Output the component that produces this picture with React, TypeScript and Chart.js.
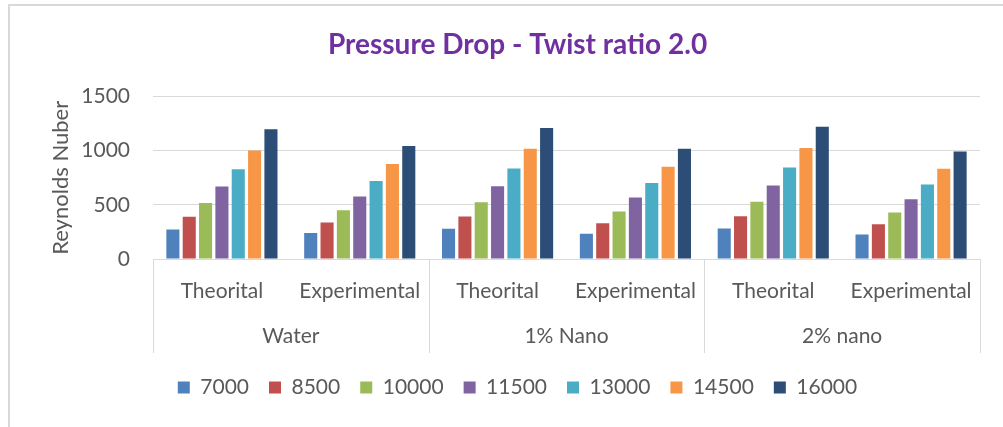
import React, { useEffect, useRef } from "react";
import { Chart, registerables } from "chart.js";

Chart.register(...registerables);

const groups = ["Water", "1% Nano", "2% nano"];
const subCategories = ["Theorital", "Experimental"];
const seriesNames = ["7000", "8500", "10000", "11500", "13000", "14500", "16000"];
const s7000 = [273, 239, 279, 233, 282, 227];
const s8500 = [390, 337, 393, 331, 396, 322];
const s10000 = [518, 451, 525, 439, 528, 429];
const s11500 = [669, 577, 672, 567, 678, 552];
const s13000 = [828, 721, 837, 702, 844, 687];
const s14500 = [1003, 877, 1018, 853, 1025, 834];
const s16000 = [1199, 1043, 1209, 1018, 1221, 994];
const seriesValues = [s7000, s8500, s10000, s11500, s13000, s14500, s16000];
const seriesColors = ["#4F81BD", "#C0504D", "#9BBB59", "#8064A2", "#4BACC6", "#F79646", "#2C4D75"];
const yTicks = [0, 500, 1000, 1500];

const FONT = "Lato, 'Open Sans', sans-serif";
const TEXT = "#595959";
const GRID = "#d9d9d9";

const separatorPlugin = {
  id: "groupSeparators",
  afterDraw(chart: any) {
    const { ctx, chartArea } = chart;
    const xs = chart.scales.x;
    const per = subCategories.length;
    const positions: number[] = [chartArea.left];
    for (let g = 1; g < groups.length; g++) {
      const i = g * per;
      positions.push((xs.getPixelForTick(i - 1) + xs.getPixelForTick(i)) / 2);
    }
    positions.push(chartArea.right);
    const bottom = chart.scales.x2.bottom - 4;
    ctx.save();
    ctx.strokeStyle = GRID;
    ctx.lineWidth = 1;
    positions.forEach((p) => {
      const x = Math.round(p) + 0.5;
      ctx.beginPath();
      ctx.moveTo(x, chartArea.bottom);
      ctx.lineTo(x, bottom);
      ctx.stroke();
    });
    ctx.restore();
  },
};

export default function App() {
  const ref = useRef<HTMLCanvasElement | null>(null);
  useEffect(() => {
    document.body.style.margin = "0";
    if (!ref.current) return;
    const labels: string[] = [];
    groups.forEach(() => subCategories.forEach((s) => labels.push(s)));
    const chart = new Chart(ref.current, {
      type: "bar",
      data: {
        labels,
        datasets: seriesNames.map((name, i) => ({
          label: name,
          data: seriesValues[i],
          backgroundColor: seriesColors[i],
          borderWidth: 0,
          xAxisID: "x",
          yAxisID: "y",
          barPercentage: 0.8,
          categoryPercentage: 0.83,
        })),
      },
      options: {
        responsive: false,
        animation: false,
        layout: { padding: { left: 40, right: 8, top: 0, bottom: 19 } },
        plugins: {
          title: {
            display: true,
            text: "Pressure Drop - Twist ratio 2.0",
            color: "#7030A0",
            font: { family: FONT, size: 28, weight: "bold" },
            padding: { top: 28, bottom: 35 },
          },
          legend: {
            position: "bottom",
            labels: {
              color: TEXT,
              font: { family: FONT, size: 21 },
              boxWidth: 12,
              boxHeight: 12,
              padding: 20,
            },
          },
          tooltip: { enabled: false },
        },
        scales: {
          x: {
            type: "category",
            position: "bottom",
            offset: true,
            grid: { display: false, drawTicks: false },
            border: { display: true, color: GRID, width: 1 },
            ticks: { color: TEXT, font: { family: FONT, size: 21 }, padding: 20, maxRotation: 0 },
            afterFit: (s: any) => {
              s.height = 55;
            },
          },
          x2: {
            type: "category",
            position: "bottom",
            labels: groups,
            offset: true,
            grid: { display: false, drawTicks: false },
            border: { display: false },
            ticks: { color: TEXT, font: { family: FONT, size: 21 }, padding: 10, maxRotation: 0 },
            afterFit: (s: any) => {
              s.height = 43;
            },
          },
          y: {
            type: "linear",
            position: "left",
            min: yTicks[0],
            max: yTicks[yTicks.length - 1],
            ticks: {
              stepSize: yTicks[1] - yTicks[0],
              color: TEXT,
              font: { family: FONT, size: 21 },
              padding: 23,
              callback: (v: any) => String(v),
            },
            grid: { color: GRID, lineWidth: 1, drawTicks: false },
            border: { display: false },
            title: {
              display: true,
              text: "Reynolds Nuber",
              color: TEXT,
              font: { family: FONT, size: 22 },
              padding: { top: 8, bottom: 0 },
            },
            afterFit: (s: any) => {
              s.width = 113;
            },
          },
          yR: {
            type: "linear",
            position: "right",
            display: true,
            grid: { display: false, drawTicks: false },
            border: { display: false },
            ticks: { display: false },
            afterFit: (s: any) => {
              s.width = 15;
            },
          },
        },
      } as any,
      plugins: [separatorPlugin],
    });
    return () => chart.destroy();
  }, []);

  return (
    <div style={{ position: "relative", width: 1003, height: 427, overflow: "hidden", background: "#fff" }}>
      <div
        style={{
          position: "absolute",
          left: 8,
          top: 4,
          width: 1100,
          height: 600,
          borderLeft: "2px solid #d9d9d9",
          borderTop: "2px solid #d9d9d9",
          boxSizing: "border-box",
        }}
      />
      <canvas ref={ref} width={1003} height={427} style={{ position: "absolute", left: 0, top: 0 }} />
    </div>
  );
}
